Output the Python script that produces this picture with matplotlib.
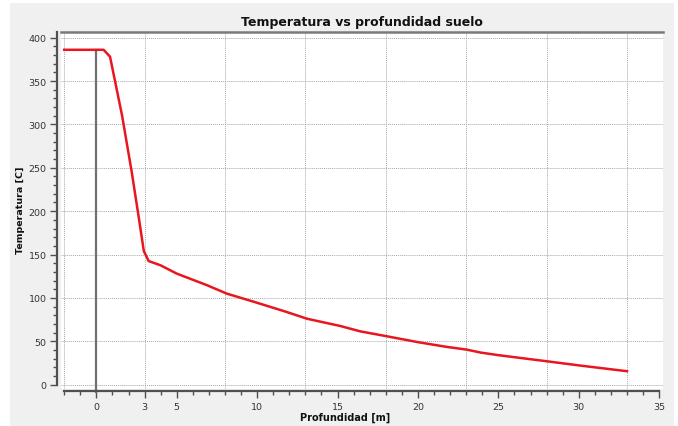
import matplotlib
matplotlib.use('Agg')
from matplotlib import pyplot as plt
from matplotlib.patches import Rectangle
import numpy as np

# profundidad [m] y temperatura [C]
profundidad = [-2.0, 0.45, 0.85, 1.6, 2.2, 2.65, 2.95, 3.25, 4.0, 5.0, 6.9, 8.1,
               9.8, 11.8, 13.1, 15.2, 16.4, 18.0, 20.0, 21.8, 23.0, 23.9, 25.0,
               28.0, 30.1, 33.0]
temperatura = [386, 386, 378, 310, 245, 191, 154, 142.5, 137.5, 128, 114.5, 105,
               95.5, 84, 76, 67.5, 61.5, 56, 49, 43.5, 40.5, 37, 34, 27, 22, 15.5]

# linea vertical de referencia
marca_x = 0
marca_y = 386

xticks = [0, 3, 5, 10, 15, 20, 25, 30, 35]
grid_x = [-2, 3, 8, 13, 18, 23, 28, 33]
grid_y = [0, 50, 100, 150, 200, 250, 300, 350, 400]

W, H = 678, 427
fig = plt.figure(figsize=(W / 100, H / 100), dpi=100)
fig.patch.set_facecolor('white')
fig.patches.append(Rectangle((10 / W, 0), 664 / W, 423 / H, transform=fig.transFigure,
                             facecolor='#f0f0f0', edgecolor='none', zorder=-10))

ax = fig.add_axes([61 / W, 1 - 390 / H, 602 / W, 357 / H])
ax.set_facecolor('white')
ax.set_xlim(-2.2, 35.24)
ax.set_ylim(-5.0, 406.5)

for g in grid_x:
    ax.axvline(g, color='#a8a8a8', lw=0.7, ls=(0, (1, 1)), zorder=1)
for g in grid_y:
    ax.axhline(g, color='#a8a8a8', lw=0.7, ls=(0, (1, 1)), zorder=1)

ax.plot([marca_x, marca_x], [-8, marca_y], color='#707070', lw=1.6, zorder=2,
        clip_on=False)
ax.plot(profundidad, temperatura, color='#e8161e', lw=1.8, zorder=3)

# ejes
ax.spines['right'].set_visible(False)
ax.spines['top'].set_color('#7a7a7a')
ax.spines['top'].set_linewidth(1.8)
ax.spines['left'].set_position(('outward', 2.9))
ax.spines['left'].set_bounds(0, 406.5)
ax.spines['bottom'].set_position(('outward', 1.5))
ax.spines['bottom'].set_bounds(-2, 35)
for s in ['left', 'bottom']:
    ax.spines[s].set_color('#505050')
    ax.spines[s].set_linewidth(1.6)

ax.set_yticks(np.arange(0, 401, 50))
ax.set_yticks(np.arange(0, 401, 10), minor=True)
ax.set_xticks(xticks)
ax.set_xticks(np.arange(-2, 36, 1), minor=True)
ax.tick_params(axis='both', which='major', length=5, width=1.0, color='#505050',
               labelsize=6.8, labelcolor='#333333')
ax.tick_params(axis='both', which='minor', length=3, width=1.0, color='#505050')
ax.tick_params(axis='y', which='major', pad=2.5)
ax.tick_params(axis='x', which='major', pad=3)

ax.set_title('Temperatura vs profundidad suelo', fontsize=9, fontweight='bold',
             color='#111111', pad=5)
fig.text(345 / W, 1 - 418 / H, 'Profundidad [m]', fontsize=7, fontweight='bold',
         ha='center', va='center', color='#111111')
fig.text(21 / W, 1 - 210 / H, 'Temperatura [C]', fontsize=6.8, fontweight='bold',
         ha='center', va='center', rotation=90, color='#111111')

plt.savefig('out.png', dpi=100)
plt.close()
